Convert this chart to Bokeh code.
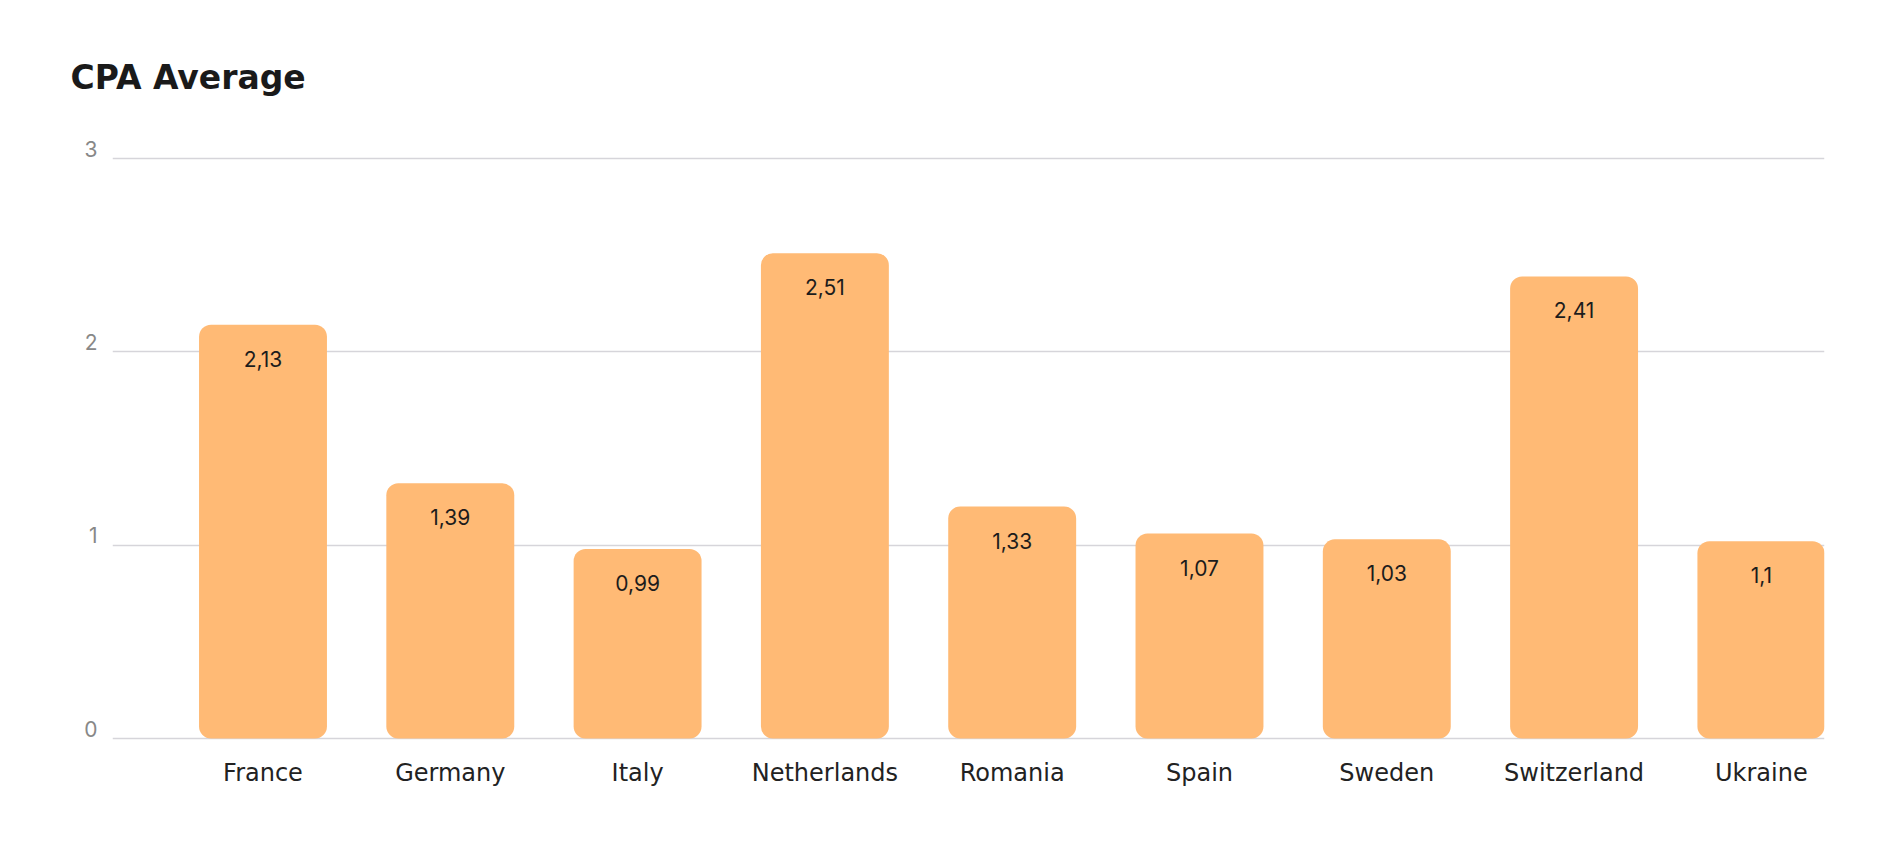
from bokeh.plotting import figure
from bokeh.models import Range1d, LinearAxis, FixedTicker, Grid, ColumnDataSource
from bokeh.core.properties import value
from bokeh.embed import file_html
from bokeh.resources import INLINE

# ---- data ----
countries = ["France", "Germany", "Italy", "Netherlands", "Romania",
             "Spain", "Sweden", "Switzerland", "Ukraine"]
cpa_values = [2.14, 1.32, 0.98, 2.51, 1.20, 1.06, 1.03, 2.39, 1.02]
cpa_labels = ["2,13", "1,39", "0,99", "2,51", "1,33", "1,07", "1,03", "2,41", "1,1"]
y_ticks = [0, 1, 2, 3]
title_text = "CPA Average"

FONT = "Inter"
WIDE = "DejaVu Sans"
x_pos = list(range(len(countries)))

src = ColumnDataSource(dict(x=x_pos, top=cpa_values, label=cpa_labels, country=countries))

Y_START = -0.0103
Y_END = 3.0983
LAB_SHIFT = 0.0517

p = figure(width=1886, height=842, output_backend="svg", toolbar_location=None,
           x_range=Range1d(-0.8035, 8.337), y_range=Range1d(Y_START, Y_END),
           x_axis_location=None, y_axis_location=None,
           min_border_left=112, min_border_right=62,
           min_border_top=139, min_border_bottom=102,
           title=title_text)
p.extra_y_ranges = {"lab": Range1d(Y_START - LAB_SHIFT, Y_END - LAB_SHIFT)}
p.outline_line_color = None
p.background_fill_color = "#ffffff"
p.border_fill_color = "#ffffff"
p.grid.visible = False

p.title.text_font = WIDE
p.title.text_font_size = "33px"
p.title.text_font_style = "bold"
p.title.text_color = "#1a1a1a"
p.title.align = "left"
p.title.offset = -42
p.title.standoff = 85

p.add_layout(Grid(dimension=1, ticker=FixedTicker(ticks=y_ticks),
                  grid_line_color="#d6d5da", grid_line_width=1.5))

xaxis = LinearAxis(ticker=FixedTicker(ticks=x_pos),
                   major_label_overrides={i: c for i, c in enumerate(countries)},
                   axis_line_color=None, major_tick_line_color=None,
                   minor_tick_line_color=None, major_tick_out=0, major_tick_in=0,
                   major_label_standoff=18,
                   major_label_text_font=WIDE, major_label_text_font_size="24px",
                   major_label_text_color="#222222")
p.add_layout(xaxis, "below")

yaxis = LinearAxis(y_range_name="lab", ticker=FixedTicker(ticks=y_ticks),
                   axis_line_color=None, major_tick_line_color=None,
                   minor_tick_line_color=None, major_tick_out=0, major_tick_in=0,
                   major_label_standoff=15,
                   major_label_text_font=FONT, major_label_text_font_size="21px",
                   major_label_text_color="#888888")
p.add_layout(yaxis, "left")

p.vbar(x="x", top="top", bottom=0, width=0.683, source=src,
       fill_color="#FFBA75", line_color=None, border_radius=12)

p.text(x="x", y="top", text="label", source=src, y_offset=34,
       text_align="center", text_baseline="middle",
       text_font=value(FONT), text_font_size="21px", text_color="#1c1c1c")

open("out.html", "w").write(file_html(p, INLINE))
